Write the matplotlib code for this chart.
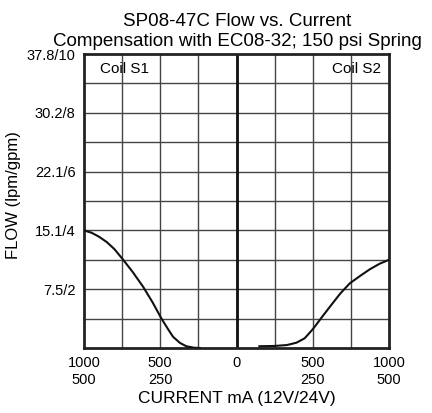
import matplotlib
matplotlib.use("Agg")
import matplotlib.pyplot as plt
import numpy as np

plt.rcParams['font.family'] = ['Liberation Sans', 'DejaVu Sans']

# Coil S1 (left side, current shown as negative x)
s1_current = [-1000, -950, -900, -850, -800, -743, -680, -612, -550, -492, -450, -416, -370, -329, -280, -240]
s1_flow = [4.0, 3.92, 3.78, 3.6, 3.36, 3.0, 2.58, 2.08, 1.55, 1.0, 0.65, 0.38, 0.17, 0.06, 0.01, 0.0]

# Coil S2 (right side)
s2_current = [150, 250, 330, 393, 447, 502, 560, 612, 680, 743, 810, 875, 940, 1000]
s2_flow = [0.06, 0.07, 0.1, 0.18, 0.33, 0.65, 1.05, 1.4, 1.85, 2.2, 2.45, 2.68, 2.87, 3.0]

ytick_vals = [2, 4, 6, 8, 10]
ytick_labels = ["7.5/2", "15.1/4", "22.1/6", "30.2/8", "37.8/10"]
xtick_vals = [-1000, -500, 0, 500, 1000]
xtick_labels = ["1000\n500", "500\n250", "0", "500\n250", "1000\n500"]

fig = plt.figure(figsize=(4.32, 4.13), dpi=100)
ax = fig.add_axes([84/432, 65/413, 305/432, 294/413])

ax.set_xlim(-1000, 1000)
ax.set_ylim(0, 10)

# grid
for gx in np.arange(-750, 1000, 250):
    ax.axvline(gx, color='#444444', lw=1.0, zorder=1)
for gy in np.arange(1, 10, 1):
    ax.axhline(gy, color='#444444', lw=1.0, zorder=1)
ax.axvline(0, color='#111111', lw=2.0, zorder=2)

ax.plot(s1_current, s1_flow, color='#111111', lw=1.5, zorder=3)
ax.plot(s2_current, s2_flow, color='#111111', lw=1.5, zorder=3)

for sp in ax.spines.values():
    sp.set_linewidth(2.0)
    sp.set_color('#222222')

ax.set_yticks(ytick_vals)
ax.set_yticklabels(ytick_labels, fontsize=10.5)
ax.set_xticks(xtick_vals)
ax.set_xticklabels(xtick_labels, fontsize=10.5, linespacing=1.2)
ax.tick_params(length=0, pad=6)

ax.text(-895, 9.5, "Coil S1", fontsize=11, va='center', ha='left')
ax.text(950, 9.5, "Coil S2", fontsize=11, va='center', ha='right')

ax.set_ylabel("FLOW (lpm/gpm)", fontsize=12)
ax.yaxis.set_label_coords(-0.205, 0.52)
ax.set_xlabel("CURRENT mA (12V/24V)", fontsize=12.5, labelpad=3)

fig.text(237/432, 1 - 22/413, "SP08-47C Flow vs. Current", fontsize=13.5, ha='center', va='center')
fig.text(237/432, 1 - 42/413, "Compensation with EC08-32; 150 psi Spring", fontsize=13.5, ha='center', va='center')

fig.savefig("out.png", dpi=100)
